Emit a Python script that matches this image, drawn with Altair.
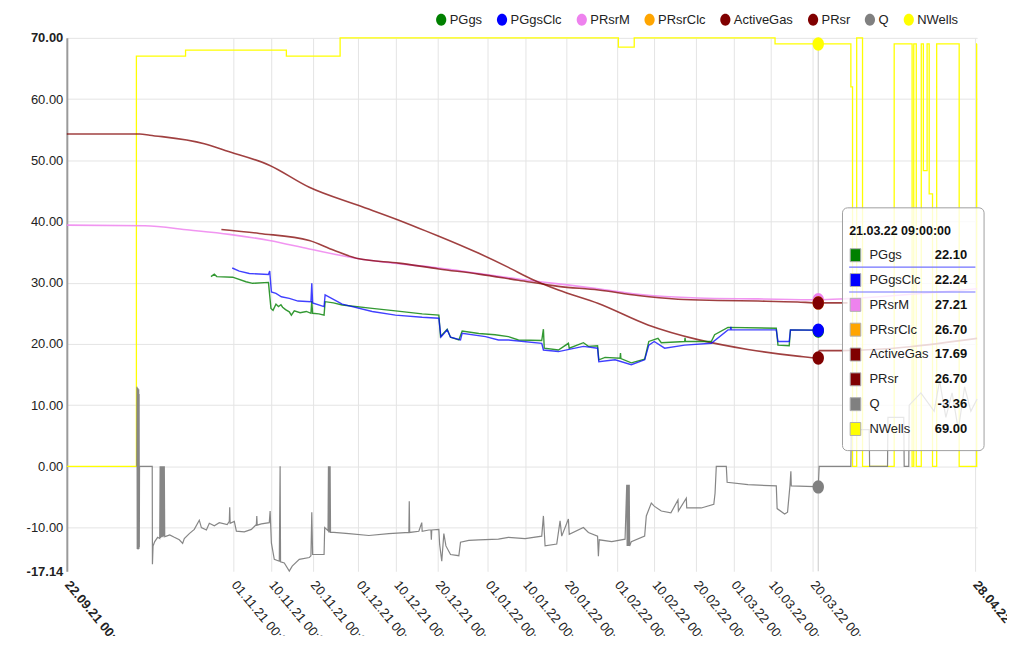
import altair as alt
import pandas as pd

START = pd.Timestamp("2021-09-22 00:00:00")
CROSS_TIME = "2022-03-21T09:00:00"

SERIES = ["PGgs", "PGgsClc", "PRsrM", "PRsrClc", "ActiveGas", "PRsr", "Q", "NWells"]
SERIES_COLORS = ["#008000", "#0000ff", "#ee82ee", "#ffa500", "#800000", "#800000", "#808080", "#ffff00"]

# values at the crosshair (tooltip)
TIP_VALUES = [22.10, 22.24, 27.21, 26.70, 17.69, 26.70, -3.36, 69.00]

# day offsets are days since 22.09.21 00:00
PGGS_DAY = [34.6, 35.4, 36.0, 39.8, 43.0, 44.6, 48.4, 49.0, 49.5, 50.2,
            50.8, 51.4, 51.8, 52.5, 53.4, 53.9, 54.6, 56.0, 57.5, 58.6, 58.8, 59.0, 60.5, 61.75, 62.0, 64.0, 66.1,
            73.3, 78.9, 85.3, 89.3, 89.7, 91.3, 92.1, 94.1, 94.9, 98.9,
            102.8, 106.0, 108.4, 114.0, 114.4, 114.6, 118.0, 120.4, 120.6, 124.0,
            125.2, 127.4, 127.7, 129.2, 132.8, 132.9, 133.0, 135.5, 138.7, 139.7,
            141.9, 142.7, 148.3, 148.4, 148.5, 154.7, 155.5, 158.7, 170.3, 170.7,
            173.4, 173.7, 179.8, 180.375]
PGGS_VAL = [31.0, 31.4, 31.0, 30.9, 30.15, 29.9, 30.05, 25.8, 25.5, 26.5,
            26.1, 26.4, 26.0, 25.6, 25.25, 24.7, 25.4, 25.1, 25.3, 25.0, 27.0, 25.0, 24.9, 24.7, 26.9, 26.7, 26.35,
            25.8, 25.4, 24.9, 24.7, 21.2, 22.4, 21.1, 20.65, 22.1, 21.7,
            21.5, 21.2, 20.65, 20.55, 22.4, 19.3, 19.0, 20.1, 19.3, 20.2,
            19.6, 19.7, 17.4, 17.8, 17.65, 18.5, 17.6, 16.9, 17.5, 20.4,
            20.9, 20.2, 20.4, 21.0, 20.4, 20.4, 21.5, 22.7, 22.55, 19.8,
            19.7, 22.3, 22.25, 22.10]

PGGSCLC_DAY = [39.7, 41.4, 43.8, 48.4, 48.7, 49.1, 50.2, 51.5, 53.4, 55.5, 58.6, 58.8,
               59.0, 61.75, 62.0, 66.1, 73.3, 78.9, 85.3, 89.3, 89.8, 91.3,
               92.1, 94.5, 94.9, 100.5, 103.6, 106.0, 114.0, 114.4, 118.0, 124.0,
               127.4, 127.7, 131.6, 135.5, 138.7, 139.7, 141.0, 143.5, 148.3, 154.7,
               158.7, 159.3, 159.4, 159.5, 170.3, 170.7, 173.4, 173.7, 180.375]
PGGSCLC_VAL = [32.4, 31.9, 31.5, 31.35, 31.9, 28.5, 28.25, 27.7, 27.45, 27.0, 26.9, 29.9,
               26.7, 26.1, 28.0, 26.5, 25.3, 24.7, 24.35, 24.2, 21.1, 22.3,
               21.1, 20.65, 21.75, 21.2, 20.65, 20.65, 20.1, 19.0, 18.75, 19.6,
               19.3, 17.1, 17.4, 16.6, 17.4, 19.8, 20.4, 19.3, 19.8, 20.1,
               22.3, 22.3, 22.8, 22.3, 22.3, 20.4, 20.4, 22.3, 22.24]

PRSRM_DAY = [0, 18.7, 29.4, 39.0, 48.6, 58.2, 70.1, 89.3, 108.4, 127.6, 137.1, 151.5, 165.9, 180.375, 187.4, 218.5]
PRSRM_VAL = [39.4, 39.3, 38.6, 37.9, 36.9, 35.5, 33.9, 32.4, 30.6, 29.0, 28.1, 27.5, 27.35, 27.21, 27.4, 29.0]

PRSR_DAY = [37.1, 46.2, 58.2, 64.1, 70.1, 79.7, 89.3, 98.9, 108.4, 118.0, 127.6, 137.1, 146.7, 156.3, 165.9, 175.4, 180.375, 187.4]
PRSR_VAL = [38.7, 38.05, 36.9, 35.3, 33.9, 33.2, 32.25, 31.4, 30.4, 29.4, 28.8, 27.9, 27.3, 27.1, 27.0, 26.85, 26.70, 26.7]

ACTIVEGAS_DAY = [0, 17.5, 19.9, 33.0, 38.0, 48.6, 58.2, 70.1, 79.7, 84.5, 89.3, 98.9, 106.0, 111.5, 118.0,
                 127.6, 139.5, 151.5, 163.5, 175.4, 180.375, 180.6, 186.0, 218.5]
ACTIVEGAS_VAL = [54.3, 54.3, 54.1, 52.7, 51.6, 49.2, 45.6, 42.6, 40.2, 38.9, 37.6, 34.8, 32.5, 30.6, 28.8,
                 26.6, 23.1, 20.7, 19.1, 18.0, 17.69, 18.9, 18.9, 20.9]

Q_DAY = [16.8, 16.85, 16.9, 16.95, 17.0, 17.05, 17.1, 17.15, 17.2, 17.25, 17.3, 17.35, 17.4, 17.45,
         20.5, 20.55, 20.7, 21.1, 21.8, 22.3, 22.4, 22.5, 22.6, 22.7, 22.8, 22.9, 23.0, 23.1, 23.2, 23.3, 23.4, 23.5,
         23.9, 24.7, 25.8, 27.0, 27.8, 28.2, 29.4, 30.6, 31.4, 31.8, 32.3, 33.5, 34.2, 35.4, 36.6, 38.5,
         39.0, 39.1, 39.2, 40.2, 40.7, 42.6, 44.3, 45.5, 45.6, 45.7, 46.7, 48.6, 48.8, 49.1, 49.8, 51.0,
         51.2, 51.3, 52.2, 53.4, 54.1, 55.8, 58.2, 58.6, 58.8, 59.0, 61.75, 61.9, 62.7, 62.8, 62.9, 63.0,
         63.1, 63.2, 63.3, 63.4, 64.1, 67.7, 72.5, 77.3, 82.1, 82.2, 82.3, 84.5, 85.2, 85.3, 86.9, 87.4,
         87.5, 87.6, 89.3, 89.5, 90.0, 90.5, 91.0, 92.1, 94.1, 94.5, 96.5, 98.9, 103.6, 106.0, 110.0, 114.0,
         114.4, 114.8, 117.6, 118.4, 118.8, 120.4, 120.6, 124.0, 125.2, 127.4, 127.6, 127.8, 130.8, 134.0,
         134.4, 134.5, 134.6, 134.7, 134.8, 134.9, 135.0, 135.1, 135.5, 138.7, 139.1, 140.3, 141.0, 142.7,
         145.0, 146.7, 146.8, 148.7, 148.8, 152.3, 155.3, 155.6, 155.9, 158.3, 158.5, 163.5, 170.3, 170.5,
         172.3, 173.0, 173.6, 173.8, 173.9, 179.5, 180.375, 180.6, 188.2, 188.3, 192.6, 192.7, 197.0, 197.1,
         200.9, 201.0, 202.1, 202.2, 205.0, 208.2, 209.5, 211.0, 212.5, 214.0, 215.5, 217.0, 218.5]
Q_VAL = [0, 13.0, -13.5, 12.5, -13.4, 12.8, -13.6, 12.2, -13.3, 12.6, -13.5, 11.8, -13.2, 0,
         0, -16.0, -13.0, -12.3, -11.6, -11.8, 0, -11.7, 0, -11.6, 0, -11.5, 0, -11.6, 0, -11.4, 0, -11.5,
         -11.4, -11.2, -11.6, -12.0, -12.6, -11.8, -11.0, -10.3, -9.3, -8.8, -10.0, -10.4, -9.3, -9.7, -9.2, -9.5,
         -9.0, -6.7, -9.3, -9.0, -10.6, -10.7, -10.3, -9.5, -8.1, -9.6, -9.4, -9.2, -7.3, -12.5, -15.2, -15.5,
         0, -15.6, -15.8, -17.1, -16.3, -15.2, -14.9, -14.6, -7.5, -14.4, -14.4, -10.0, -10.5, 0, -10.8, 0,
         -10.8, 0, -10.8, -10.8, -10.8, -11.0, -11.3, -11.0, -10.8, -5.7, -10.8, -10.6, -9.2, -10.6, -10.4, -10.4,
         -12.0, -10.4, -10.3, -12.8, -15.5, -11.0, -13.0, -14.4, -14.6, -12.4, -12.1, -12.0, -11.9, -11.6, -11.8, -11.4,
         -8.1, -13.0, -12.7, -8.9, -11.4, -8.6, -11.1, -10.0, -10.8, -11.4, -14.7, -12.0, -12.3, -11.9,
         -3.0, -13.0, -3.0, -13.0, -3.0, -13.0, -3.0, -13.0, -12.3, -11.4, -8.1, -6.0, -6.5, -7.3,
         -7.6, -5.5, -7.3, -5.2, -6.8, -6.8, -6.2, -4.4, 0, 0, -2.6, -3.0, -3.2, -6.9,
         -7.8, -7.5, -3.0, -0.8, -3.2, -3.3, -3.36, 0, 0, 6.0, 6.0, 0, 0, 8.0,
         8.0, 0, 0, 10.0, 12.0, 9.0, 14.0, 8.0, 12.0, 6.0, 13.0, 9.0, 11.0]

NWELLS_DAY = [0, 16.7, 28.5, 52.7, 65.6, 132.4, 136.2, 170.0, 188.2, 188.6, 189.6, 191.0, 198.6, 202.9,
              203.3, 203.9, 205.1, 205.6, 206.5, 207.0, 207.8, 208.8, 214.2, 218.4, 218.5]
NWELLS_VAL = [0, 67, 68, 67, 70, 68.5, 70, 69, 62, 0, 70, 0, 69, 0,
              69, 0, 69, 48.3, 69, 44.5, 0, 69, 0, 69, 69]

FONT = "Liberation Sans, Arial, sans-serif"
ELLIPSE = "M-0.85,0A0.85,1,0,1,1,0.85,0A0.85,1,0,1,1,-0.85,0Z"


def frame(name, days, vals):
    t = [(START + pd.Timedelta(days=d)).strftime("%Y-%m-%dT%H:%M:%S") for d in days]
    return pd.DataFrame({"series": name, "t": t, "v": vals})


x_scale = alt.Scale(domain=[alt.DateTime(year=2021, month=9, date=22, hours=0),
                            alt.DateTime(year=2022, month=4, date=28, hours=12)])
y_scale = alt.Scale(domain=[-17.14, 70], nice=False, zero=False)

tick_dates = [(2021, 9, 22), (2021, 11, 1), (2021, 11, 10), (2021, 11, 20), (2021, 12, 1),
              (2021, 12, 10), (2021, 12, 20), (2022, 1, 1), (2022, 1, 10), (2022, 1, 20),
              (2022, 2, 1), (2022, 2, 10), (2022, 2, 20), (2022, 3, 1), (2022, 3, 10),
              (2022, 3, 20), (2022, 4, 28)]
x_axis = alt.Axis(
    values=[alt.DateTime(year=a, month=b, date=c) for a, b, c in tick_dates],
    format="%d.%m.%y %H:%M", labelAngle=50, labelAlign="left", labelBaseline="middle",
    labelPadding=11, labelFont=FONT, labelFontSize=13, labelColor="#222",
    labelFontWeight={"condition": {"test": "datum.value < datetime(2021,8,23) || datum.value > datetime(2022,3,27)",
                                   "value": "bold"}, "value": "normal"},
    labelOverlap=False, labelFlush=False, domain=False, ticks=False,
    grid=True, gridColor="#e4e4e4", title=None)
y_axis = alt.Axis(
    values=[-17.14, -10, 0, 10, 20, 30, 40, 50, 60, 70],
    labelExpr="replace(format(datum.value, '.2f'), '\u2212', '-')",
    labelFont=FONT, labelFontSize=13, labelColor="#222", labelPadding=4,
    labelFontWeight={"condition": {"test": "datum.value > 69 || datum.value < -17", "value": "bold"},
                     "value": "normal"},
    gridOpacity={"condition": {"test": "datum.value < -17", "value": 0}, "value": 1},
    labelOverlap=False, labelFlush=False,
    domainColor="#9a9a9a", domainWidth=2, ticks=False, grid=True, gridColor="#e4e4e4", title=None)

X = alt.X("t:T", scale=x_scale, axis=x_axis)
Y = alt.Y("v:Q", scale=y_scale, axis=y_axis)

cross_df = pd.DataFrame({"t": [CROSS_TIME]})
crosshair = alt.Chart(cross_df).mark_rule(color="#d2d2d2", strokeWidth=1.2).encode(x=X)

line_specs = [
    ("NWells", NWELLS_DAY, NWELLS_VAL, "#ffff00", 1.3, 1.0, "step-after"),
    ("Q", Q_DAY, Q_VAL, "#808080", 1.2, 0.95, "linear"),
    ("PRsrM", PRSRM_DAY, PRSRM_VAL, "#ee82ee", 1.6, 0.85, "monotone"),
    ("ActiveGas", ACTIVEGAS_DAY, ACTIVEGAS_VAL, "#800000", 1.6, 0.75, "monotone"),
    ("PRsr", PRSR_DAY, PRSR_VAL, "#800000", 1.6, 0.75, "monotone"),
    ("PGgs", PGGS_DAY, PGGS_VAL, "#008000", 1.4, 0.8, "linear"),
    ("PGgsClc", PGGSCLC_DAY, PGGSCLC_VAL, "#0000ff", 1.4, 0.75, "linear"),
]
lines = []
for name, days, vals, col, sw, op, interp in line_specs:
    lines.append(
        alt.Chart(frame(name, days, vals)).mark_line(
            color=col, strokeWidth=sw, opacity=op, interpolate=interp
        ).encode(x=X, y=Y)
    )

color_scale = alt.Scale(domain=SERIES, range=SERIES_COLORS)
marker_df = pd.DataFrame({"series": SERIES, "t": CROSS_TIME, "v": TIP_VALUES})
markers = alt.Chart(marker_df).mark_point(
    filled=True, shape=ELLIPSE, size=180, opacity=1, strokeWidth=0
).encode(
    x=X, y=Y,
    color=alt.Color("series:N", scale=color_scale, legend=alt.Legend(
        title=None, orient="none", legendX=369, legendY=-25, direction="horizontal",
        symbolType=ELLIPSE, symbolSize=144, symbolStrokeWidth=0,
        labelFont=FONT, labelFontSize=13, labelColor="#222",
        columnPadding=13, labelOffset=2, padding=0)),
)

# tooltip box
box = alt.Chart(cross_df).mark_rect(
    fill="white", fillOpacity=0.8, stroke="#a0a0a0", strokeWidth=1, cornerRadius=5
).encode(x=alt.value(778), x2=alt.value(920), y=alt.value(170.5), y2=alt.value(414))

tip_title = alt.Chart(cross_df).mark_text(
    align="left", baseline="middle", font=FONT, fontSize=12.5, fontWeight="bold", color="#111"
).encode(x=alt.value(784.7), y=alt.value(194), text=alt.Text("t:T", format="%d.%m.%y %H:%M:%S"))

tip_df = pd.DataFrame({"series": SERIES, "value": TIP_VALUES, "i": list(range(len(SERIES)))})
tip_df["label"] = [f"{v:.2f}" for v in TIP_VALUES]
tip_base = alt.Chart(tip_df).transform_calculate(
    ty="218 + datum.i * 24.9", sq0="218 + datum.i * 24.9 - 6.5", sq1="218 + datum.i * 24.9 + 6.5",
    ln="218 + datum.i * 24.9 + 12"
)
tip_lines = tip_base.transform_filter("datum.i < 2").mark_rule(color="#7272ff", strokeWidth=1.2).encode(
    x=alt.value(784.7), x2=alt.value(911.3), y=alt.Y("ln:Q", scale=None, axis=None))
tip_sq = tip_base.mark_rect(stroke="#b0b0b0", strokeWidth=1).encode(
    x=alt.value(785.7), x2=alt.value(796.3),
    y=alt.Y("sq0:Q", scale=None, axis=None), y2=alt.Y2("sq1:Q"),
    fill=alt.Fill("series:N", scale=color_scale, legend=None))
tip_lab = tip_base.mark_text(align="left", baseline="middle", font=FONT, fontSize=13, color="#222").encode(
    x=alt.value(805), y=alt.Y("ty:Q", scale=None, axis=None), text="series:N")
tip_val = tip_base.mark_text(align="right", baseline="middle", font=FONT, fontSize=13,
                             fontWeight="bold", color="#111").encode(
    x=alt.value(903), y=alt.Y("ty:Q", scale=None, axis=None), text="label:N")

chart = alt.layer(
    crosshair, *lines, markers, box, tip_lines, tip_sq, tip_lab, tip_val, tip_title
).properties(
    width=913, height=535,
    padding={"left": 59, "top": 29, "right": 30, "bottom": 64},
    autosize=alt.AutoSizeParams(type="none"),
    background="white",
).configure_view(stroke=None)

chart.save("out.html", embed_options={"renderer": "svg", "actions": False})
